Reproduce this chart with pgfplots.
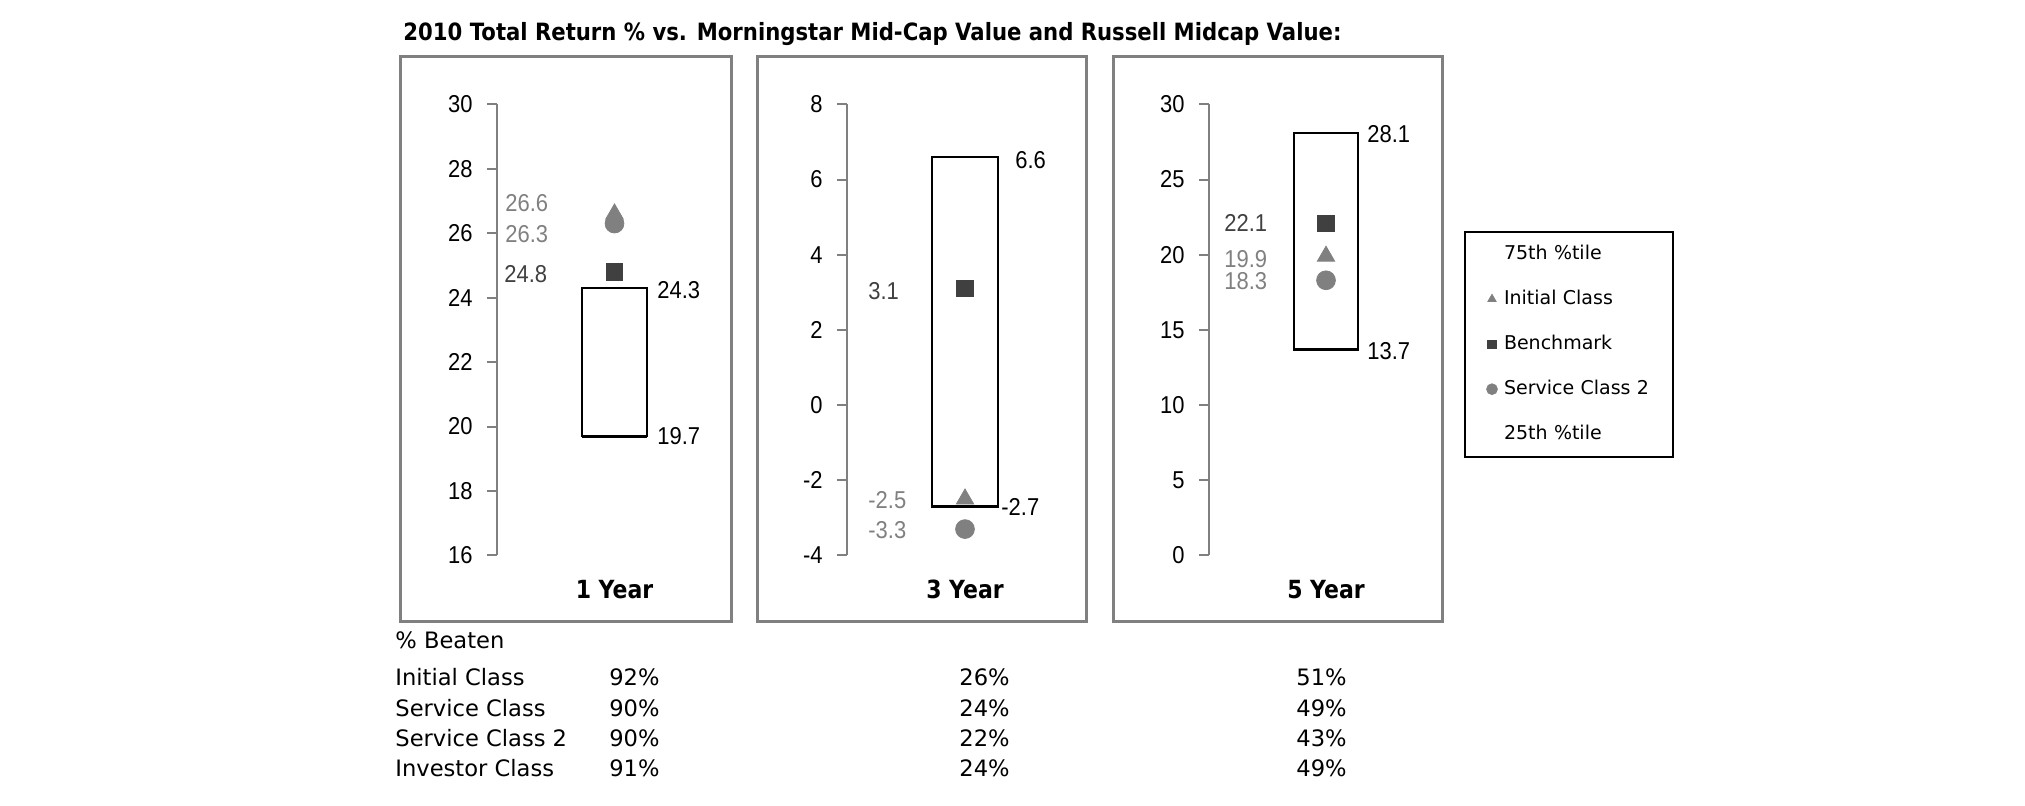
\documentclass[border=0pt]{standalone}
\usepackage{fontspec}
\setmainfont{DejaVu Sans}
\newfontfamily\arial[FakeStretch=0.9]{Liberation Sans}
\newfontfamily\dvbold[FakeStretch=0.88]{DejaVu Sans Bold}
\usepackage{pgfplots}
\pgfplotsset{compat=1.18}
\definecolor{mg}{HTML}{808080}
\definecolor{dg}{HTML}{404040}
\tikzset{
  vl/.style={anchor=west, inner sep=0pt, font=\arial\fontsize{12.2}{14}\selectfont},
  yr/.style={anchor=center, inner sep=0pt, yshift=-17pt, font=\dvbold\fontsize{12.5}{14}\selectfont},
  tb/.style={inner sep=0pt, font=\fontsize{11.3}{13}\selectfont},
}
\pgfplotsset{
  panel/.style={
    scale only axis, width=100pt, height=225.5pt, anchor=south west,
    xmin=0, xmax=200, axis x line=none, axis y line*=left,
    y axis line style={draw=mg, line width=1pt},
    ytick style={draw=mg, line width=1pt},
    tick align=outside, major tick length=5pt,
    yticklabel style={font=\arial\fontsize{12.2}{14}\selectfont, inner sep=0pt, xshift=-7pt},
    clip=false,
  },
  boxst/.style={draw=black, line width=1.2pt, mark=none, forget plot},
  tri/.style={only marks, mark=triangle*, mark size=5pt, color=mg, forget plot},
  sq/.style={only marks, mark=square*, mark size=4.1pt, color=dg, forget plot},
  circ/.style={only marks, mark=*, mark size=4.7pt, color=mg, forget plot},
}
\begin{document}
\begin{tikzpicture}
\path[use as bounding box] (0,0) rectangle (1012.5pt,403pt);
% title
\node[anchor=base west, inner sep=0pt] at (201.5pt,382.6pt)
  {\resizebox{469pt}{\height}{\fontsize{11.9}{14}\selectfont\bfseries 2010 Total Return \% vs. Morningstar Mid-Cap Value and Russell Midcap Value:}};
% panel frames
\draw[mg, line width=1.5pt] (200pt,92.2pt) rectangle (365.5pt,374.6pt);
\draw[mg, line width=1.5pt] (378.5pt,92.2pt) rectangle (543pt,374.6pt);
\draw[mg, line width=1.5pt] (556.5pt,92.2pt) rectangle (721pt,374.6pt);

% ---------- 1 Year ----------
\begin{axis}[panel, at={(248.5pt,125.3pt)}, ymin=16, ymax=30,
  ytick={16,18,20,22,24,26,28,30}, yticklabels={16,18,20,22,24,26,28,30}]
\addplot[boxst] coordinates {(85,19.7) (150,19.7) (150,24.3) (85,24.3)} --cycle;
\addplot[draw=black, line width=1.6pt, forget plot] coordinates {(85,19.7) (150,19.7)};
\addplot[sq] coordinates {(117.5,24.8)};
\addplot[tri] coordinates {(117.5,26.6)};
\addplot[circ] coordinates {(117.5,26.3)};
\node[vl, text=mg] at (axis cs:8,26.93) {26.6};
\node[vl, text=mg] at (axis cs:8,25.97) {26.3};
\node[vl, text=dg] at (axis cs:7,24.72) {24.8};
\node[vl] at (axis cs:160,24.24) {24.3};
\node[vl] at (axis cs:160,19.69) {19.7};
\node[yr] at (axis cs:117.5,16) {1 Year};
\end{axis}

% ---------- 3 Year ----------
\begin{axis}[panel, at={(423.5pt,125.3pt)}, ymin=-4, ymax=8,
  ytick={-4,-2,0,2,4,6,8}, yticklabels={-4,-2,0,2,4,6,8}]
\addplot[boxst] coordinates {(85,-2.7) (151,-2.7) (151,6.6) (85,6.6)} --cycle;
\addplot[sq] coordinates {(118,3.1)};
\addplot[tri] coordinates {(118,-2.5)};
\addplot[circ] coordinates {(118,-3.3)};
\node[vl] at (axis cs:168,6.52) {6.6};
\node[vl] at (axis cs:154,-2.70) {-2.7};
\node[vl, text=dg] at (axis cs:21,3.03) {3.1};
\node[vl, text=mg] at (axis cs:21,-2.52) {-2.5};
\node[vl, text=mg] at (axis cs:21,-3.32) {-3.3};
\node[yr] at (axis cs:118,-4) {3 Year};
\end{axis}

% ---------- 5 Year ----------
\begin{axis}[panel, at={(604.5pt,125.3pt)}, ymin=0, ymax=30,
  ytick={0,5,10,15,20,25,30}, yticklabels={0,5,10,15,20,25,30},
  legend style={at={(axis description cs:1.275,0.720)}, anchor=north west,
    draw=black, line width=1pt, inner xsep=0pt, inner ysep=0pt,
    row sep=0pt, column sep=0pt, font=\fontsize{9.5}{11}\selectfont,
    nodes={inner sep=0pt, text width=84.5pt, align=left}},
  legend cell align=left,
  legend image code/.code={\path[draw=none] (0pt,-11.25pt) rectangle (19.5pt,11.25pt);
    \draw[#1] plot coordinates {(13.5pt,0pt)};}]
\addplot[boxst] coordinates {(85,13.7) (149,13.7) (149,28.1) (85,28.1)} --cycle;
\addplot[sq] coordinates {(117,22.1)};
\addplot[tri] coordinates {(117,19.9)};
\addplot[circ] coordinates {(117,18.3)};
\node[vl] at (axis cs:158,28.0) {28.1};
\node[vl] at (axis cs:158,13.59) {13.7};
\node[vl, text=dg] at (axis cs:15,22.09) {22.1};
\node[vl, text=mg] at (axis cs:15,19.73) {19.9};
\node[vl, text=mg] at (axis cs:15,18.25) {18.3};
\node[yr] at (axis cs:117,0) {5 Year};
\addlegendimage{draw=none}
\addlegendimage{only marks, mark=triangle*, mark size=2.4pt, color=mg, line width=0.4pt}
\addlegendimage{only marks, mark=square*, mark size=2.1pt, color=dg, line width=0.4pt}
\addlegendimage{only marks, mark=*, mark size=2.7pt, color=mg, line width=0.4pt}
\addlegendimage{draw=none}
\legend{75th \%tile, Initial Class, Benchmark, Service Class 2, 25th \%tile}
\end{axis}

% ---------- % Beaten table ----------
\node[tb, anchor=base west] at (197.5pt,78.5pt) {\% Beaten};
\node[tb, anchor=base west] at (197.5pt,60pt) {Initial Class};
\node[tb, anchor=base west] at (197.5pt,44.9pt) {Service Class};
\node[tb, anchor=base west] at (197.5pt,29.7pt) {Service Class 2};
\node[tb, anchor=base west] at (197.5pt,14.8pt) {Investor Class};
\node[tb, anchor=base east] at (330pt,60pt) {92\%};
\node[tb, anchor=base east] at (330pt,44.9pt) {90\%};
\node[tb, anchor=base east] at (330pt,29.7pt) {90\%};
\node[tb, anchor=base east] at (330pt,14.8pt) {91\%};
\node[tb, anchor=base east] at (505pt,60pt) {26\%};
\node[tb, anchor=base east] at (505pt,44.9pt) {24\%};
\node[tb, anchor=base east] at (505pt,29.7pt) {22\%};
\node[tb, anchor=base east] at (505pt,14.8pt) {24\%};
\node[tb, anchor=base east] at (673.5pt,60pt) {51\%};
\node[tb, anchor=base east] at (673.5pt,44.9pt) {49\%};
\node[tb, anchor=base east] at (673.5pt,29.7pt) {43\%};
\node[tb, anchor=base east] at (673.5pt,14.8pt) {49\%};
\end{tikzpicture}
\end{document}
